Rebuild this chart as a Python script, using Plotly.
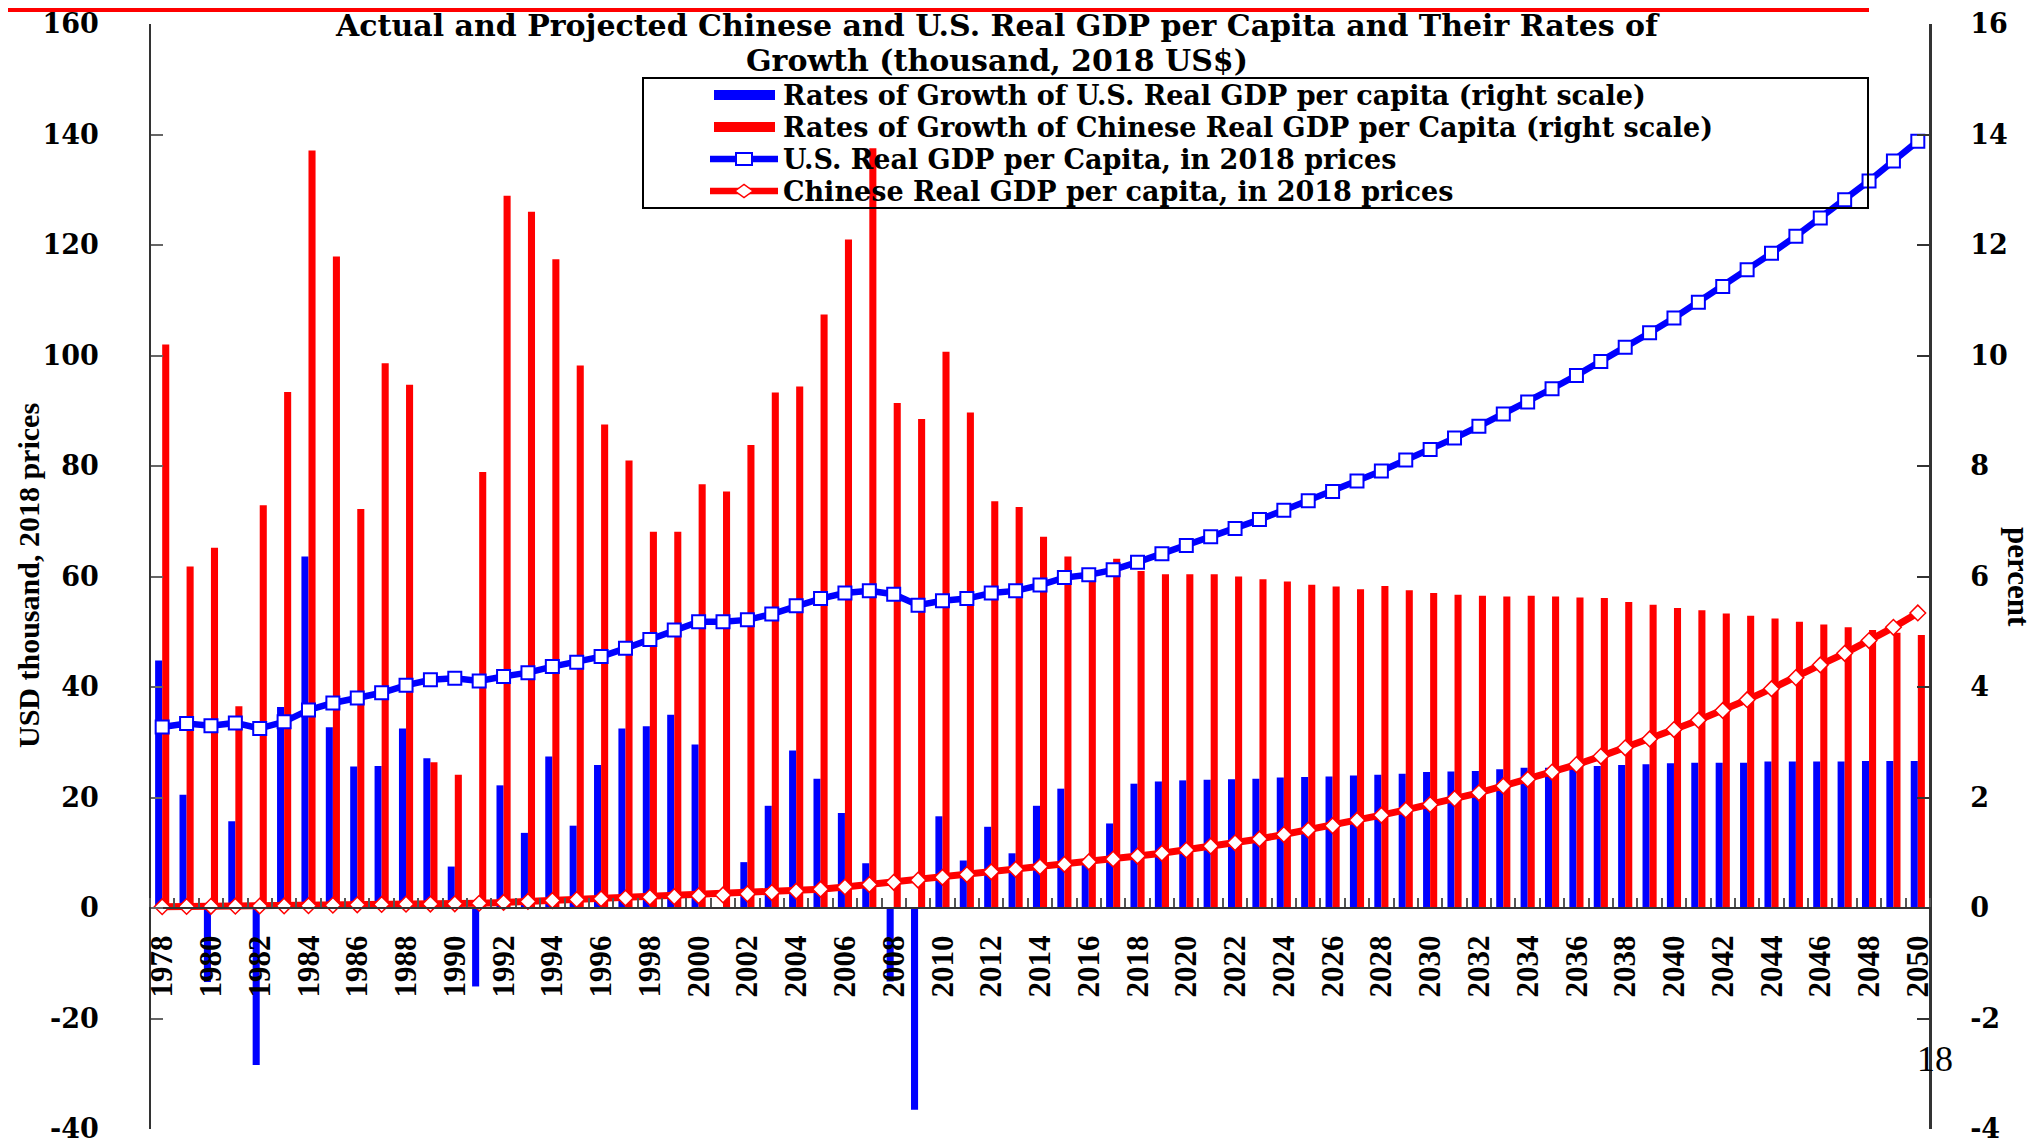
import plotly.graph_objects as go

# ---------------- data ----------------
years = list(range(1978, 2051))

us_growth = [4.48, 2.05, -1.34, 1.57, -2.84, 3.64, 6.36, 3.27, 2.56, 2.57,
             3.25, 2.71, 0.75, -1.42, 2.22, 1.36, 2.74, 1.49, 2.59, 3.25,
             3.29, 3.50, 2.96, 0.0, 0.83, 1.85, 2.85, 2.34, 1.72, 0.81,
             -1.33, -3.65, 1.66, 0.86, 1.47, 0.99, 1.85, 2.16, 0.80, 1.53,
             2.25, 2.29, 2.31, 2.32, 2.33, 2.34, 2.36, 2.37, 2.38, 2.40,
             2.41, 2.43, 2.46, 2.47, 2.48, 2.51, 2.54, 2.54, 2.54, 2.57,
             2.59, 2.60, 2.62, 2.63, 2.63, 2.63, 2.65, 2.65, 2.65, 2.65,
             2.66, 2.66, 2.66]

cn_growth = [10.20, 6.18, 6.52, 3.65, 7.29, 9.34, 13.71, 11.79, 7.22, 9.86,
             9.47, 2.64, 2.41, 7.89, 12.89, 12.60, 11.74, 9.82, 8.75, 8.10,
             6.81, 6.81, 7.67, 7.54, 8.38, 9.33, 9.44, 10.74, 12.10, 13.75,
             9.14, 8.85, 10.07, 8.97, 7.36, 7.26, 6.72, 6.36, 6.15, 6.32,
             6.10, 6.04, 6.04, 6.04, 6.00, 5.95, 5.91, 5.85, 5.82, 5.77,
             5.83, 5.75, 5.70, 5.67, 5.65, 5.64, 5.65, 5.64, 5.62, 5.61,
             5.54, 5.49, 5.43, 5.39, 5.33, 5.29, 5.24, 5.18, 5.13, 5.08,
             5.03, 4.98, 4.94]

us_gdp = [32.75, 33.4, 33.0, 33.5, 32.5, 33.7, 35.85, 37.1, 38.0, 38.95,
          40.3, 41.3, 41.6, 41.1, 41.9, 42.6, 43.7, 44.5, 45.5, 47.0,
          48.6, 50.3, 51.8, 51.8, 52.15, 53.2, 54.7, 56.0, 57.0, 57.4,
          56.8, 54.8, 55.6, 56.0, 57.0, 57.4, 58.45, 59.8, 60.3, 61.2,
          62.6, 64.1, 65.6, 67.2, 68.7, 70.3, 72.0, 73.7, 75.4, 77.3,
          79.1, 81.1, 83.0, 85.05, 87.2, 89.4, 91.6, 94.0, 96.4, 98.9,
          101.5, 104.1, 106.8, 109.65, 112.5, 115.5, 118.5, 121.6, 124.9, 128.2,
          131.6, 135.2, 138.8]

cn_gdp = [0.24, 0.27, 0.30, 0.32, 0.36, 0.38, 0.42, 0.50, 0.58, 0.64,
          0.70, 0.72, 0.76, 0.86, 1.00, 1.18, 1.35, 1.52, 1.66, 1.80,
          1.93, 2.06, 2.20, 2.37, 2.56, 2.80, 3.05, 3.40, 3.80, 4.25,
          4.65, 5.05, 5.55, 6.05, 6.55, 7.00, 7.45, 7.90, 8.35, 8.85,
          9.40, 9.90, 10.5, 11.2, 11.8, 12.5, 13.3, 14.1, 14.9, 15.9,
          16.8, 17.75, 18.75, 19.8, 20.85, 22.1, 23.3, 24.6, 25.95, 27.45,
          29.0, 30.6, 32.3, 34.0, 35.75, 37.7, 39.7, 41.7, 44.0, 46.1,
          48.4, 50.8, 53.4]

x_tick_years = years[::2]
x_tick_text = [str(y) for y in x_tick_years]
left_ticks = [-40, -20, 0, 20, 40, 60, 80, 100, 120, 140, 160]
left_tick_text = ["-40", "-20", "0", "20", "40", "60", "80", "100", "120", "140", "160"]
right_ticks = [-4, -2, 0, 2, 4, 6, 8, 10, 12, 14, 16]
right_tick_text = ["-4", "-2", "0", "2", "4", "6", "8", "10", "12", "14", "16"]

title_line1 = "Actual and Projected Chinese and U.S. Real GDP per Capita and Their Rates of"
title_line2 = "Growth (thousand, 2018 US$)"
legend_labels = ["Rates of Growth of U.S. Real GDP per capita (right scale)",
                 "Rates of Growth of Chinese Real GDP per Capita (right scale)",
                 "U.S. Real GDP per Capita, in 2018 prices",
                 "Chinese Real GDP per capita, in 2018 prices"]

# ---------------- layout geometry (page pixels; body has 8px margin) ----------------
OFF = 8
PAGE_W, PAGE_H = 2039, 1145
W, H = PAGE_W - OFF, PAGE_H - OFF
PX0, PX1 = 150, 1930      # plot area in page pixels
PY0, PY1 = 24, 1129
ML, MR = PX0 - OFF, W - (PX1 - OFF)
MT, MB = PY0 - OFF, H - (PY1 - OFF)


def px(x):
    return (x - PX0) / (PX1 - PX0)


def py(y):
    return (PY1 - y) / (PY1 - PY0)


BLUE = "#0000ff"
RED = "#ff0000"
AX = "#333333"
SERIF = "Liberation Serif, Times New Roman, serif"
WIDE = "DejaVu Serif, Liberation Serif, serif"

fig = go.Figure()

fig.add_trace(go.Bar(x=years, y=us_growth, name=legend_labels[0],
                     marker=dict(color=BLUE, line=dict(width=0)),
                     xaxis="x", yaxis="y"))
fig.add_trace(go.Bar(x=years, y=cn_growth, name=legend_labels[1],
                     marker=dict(color=RED, line=dict(width=0)),
                     xaxis="x", yaxis="y"))
fig.add_trace(go.Scatter(x=years, y=us_gdp, name=legend_labels[2],
                         mode="lines+markers", xaxis="x", yaxis="y2",
                         line=dict(color=BLUE, width=6.5),
                         marker=dict(symbol="square", size=13, color="white",
                                     line=dict(color=BLUE, width=2))))
fig.add_trace(go.Scatter(x=years, y=cn_gdp, name=legend_labels[3],
                         mode="lines+markers", xaxis="x", yaxis="y2",
                         line=dict(color=RED, width=7),
                         marker=dict(symbol="diamond", size=12, color="white",
                                     line=dict(color=RED, width=1.5))))

tickfont = dict(family=WIDE, size=27, color="black", weight="bold")

fig.update_layout(
    width=W, height=H, autosize=False,
    margin=dict(l=ML, r=MR, t=MT, b=MB, pad=0, autoexpand=False),
    paper_bgcolor="white", plot_bgcolor="white",
    showlegend=False,
    barmode="group", bargap=0.42, bargroupgap=0,
    xaxis=dict(range=[1977.5, 2050.5], anchor="free", position=0.2, automargin=False,
               tickmode="array", tickvals=x_tick_years, ticktext=x_tick_text,
               tickangle=-90, ticks="", showgrid=False, zeroline=False,
               showline=True, linecolor=AX, linewidth=2,
               ticklabelstandoff=14,
               tickfont=dict(family=SERIF, size=31, color="black", weight="bold"),
               minor=dict(tick0=1977.5, dtick=1, ticks="inside", ticklen=9,
                          tickwidth=1.5, tickcolor="#555555", showgrid=False)),
    yaxis=dict(side="right", range=[-4, 16], anchor="free", position=1, automargin=False,
               tickmode="array", tickvals=right_ticks, ticktext=right_tick_text,
               ticks="inside", ticklen=12, tickwidth=1.5, tickcolor=AX,
               showline=True, linecolor=AX, linewidth=2.5,
               showgrid=False, zeroline=False, ticklabelstandoff=33,
               ticklabeloverflow="allow", tickfont=tickfont),
    yaxis2=dict(side="left", overlaying="y", range=[-40, 160], anchor="free", position=0,
                automargin=False,
                tickmode="array", tickvals=left_ticks, ticktext=left_tick_text,
                ticks="inside", ticklen=12, tickwidth=1.5, tickcolor="#666666",
                showline=True, linecolor=AX, linewidth=1.5,
                showgrid=False, zeroline=False, ticklabelstandoff=45,
                ticklabeloverflow="allow", tickfont=tickfont),
)

shapes = []
annotations = []

# red band at top of slide
shapes.append(dict(type="rect", xref="paper", yref="paper",
                   x0=px(OFF), x1=px(1869), y0=py(OFF + 4), y1=py(OFF),
                   fillcolor=RED, line=dict(width=0), layer="above"))

# title (two lines)
title_font = dict(family=WIDE, size=30, color="black", weight="bold")
annotations.append(dict(text=title_line1, xref="paper", yref="paper",
                        x=px(997), y=py(25.5), xanchor="center", yanchor="middle",
                        showarrow=False, font=title_font))
annotations.append(dict(text=title_line2, xref="paper", yref="paper",
                        x=px(997), y=py(60.5), xanchor="center", yanchor="middle",
                        showarrow=False, font=title_font))

# axis titles
annotations.append(dict(text="USD thousand, 2018 prices", xref="paper", yref="paper",
                        x=px(28), y=py(576), xanchor="center", yanchor="middle",
                        textangle=-90, showarrow=False,
                        font=dict(family=SERIF, size=30, color="black", weight="bold")))
annotations.append(dict(text="percent", xref="paper", yref="paper",
                        x=px(2019), y=py(577), xanchor="center", yanchor="middle",
                        textangle=90, showarrow=False,
                        font=dict(family=SERIF, size=31, color="black", weight="bold")))

# slide number
annotations.append(dict(text="18", xref="paper", yref="paper",
                        x=px(1935), y=py(1059), xanchor="center", yanchor="middle",
                        showarrow=False,
                        font=dict(family=SERIF, size=36, color="black")))

# custom legend
LX0, LX1, LY0, LY1 = 643, 1868, 78, 208
shapes.append(dict(type="rect", xref="paper", yref="paper",
                   x0=px(LX0), x1=px(LX1), y0=py(LY1), y1=py(LY0),
                   line=dict(color="black", width=2), fillcolor="rgba(0,0,0,0)", layer="above"))
rows = [95.0, 127.0, 159.0, 191.0]
colors = [BLUE, RED, BLUE, RED]
for i, (ry, col, lab) in enumerate(zip(rows, colors, legend_labels)):
    if i < 2:
        shapes.append(dict(type="rect", xref="paper", yref="paper",
                           x0=px(714), x1=px(775), y0=py(ry + 5), y1=py(ry - 5),
                           fillcolor=col, line=dict(width=0), layer="above"))
    else:
        shapes.append(dict(type="line", xref="paper", yref="paper",
                           x0=px(710), x1=px(778), y0=py(ry), y1=py(ry),
                           line=dict(color=col, width=6.5), layer="above"))
        if i == 2:
            shapes.append(dict(type="rect", xref="paper", yref="paper",
                               x0=px(736), x1=px(752), y0=py(ry + 6), y1=py(ry - 6),
                               fillcolor="white", line=dict(color=col, width=2), layer="above"))
        else:
            cx = 744
            path = "M {:.5f},{:.5f} L {:.5f},{:.5f} L {:.5f},{:.5f} L {:.5f},{:.5f} Z".format(
                px(cx - 9), py(ry), px(cx), py(ry - 6.5), px(cx + 9), py(ry), px(cx), py(ry + 6.5))
            shapes.append(dict(type="path", xref="paper", yref="paper", path=path,
                               fillcolor="white", line=dict(color=col, width=1.5), layer="above"))
    annotations.append(dict(text=lab, xref="paper", yref="paper",
                            x=px(781), y=py(ry), xanchor="left", yanchor="middle",
                            showarrow=False,
                            font=dict(family=WIDE, size=27, color="black", weight="bold")))

fig.update_layout(shapes=shapes, annotations=annotations)

fig.write_html("out.html")
